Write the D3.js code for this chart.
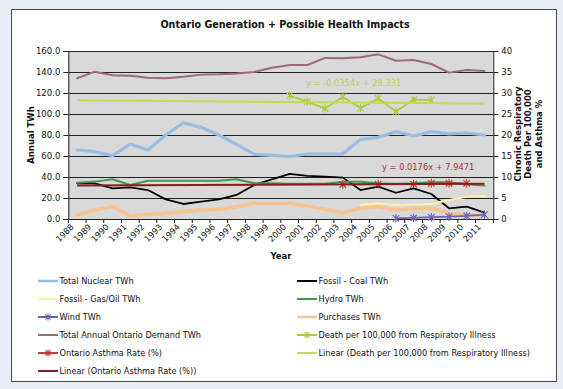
<!DOCTYPE html>
<html><head><meta charset="utf-8">
<script src="https://cdn.jsdelivr.net/npm/d3@7/dist/d3.min.js"></script>
<style>
html,body{margin:0;padding:0;background:#e9eef8;}
svg{display:block;font-family:"DejaVu Sans",Verdana,sans-serif;}
</style></head>
<body>
<svg id="c" width="563" height="389"></svg>
<script>
const years = ["1988","1989","1990","1991","1992","1993","1994","1995","1996","1997","1998","1999","2000","2001","2002","2003","2004","2005","2006","2007","2008","2009","2010","2011"];
const nuclear  = [65.7,64.1,60.3,71.4,65.7,80,91.7,87.3,80,71.1,61.6,60.6,59.5,61.9,61.9,61.9,75.9,77.8,83.2,79,83.2,81,81.9,80];
const coal     = [34,34,29.2,30.2,27.6,18.7,14.3,16.5,18.7,22.9,32.4,37.8,42.9,41,40.3,39.4,27.6,30.8,25,29.2,23.8,10.2,11.7,6];
const gasOil   = [null,null,null,null,null,null,null,null,null,null,null,null,null,null,null,null,13.3,15,13.3,13.8,14.3,18,21.2,22];
const hydro    = [34.6,35.6,37.8,32.4,36.5,36.5,36.5,36.5,36.5,37.8,34,34,33.5,33.5,33.5,35.5,35.5,34,33.5,34,35,35,33,32];
const wind     = [null,null,null,null,null,null,null,null,null,null,null,null,null,null,null,null,null,null,0.6,1,1.7,2.3,2.9,4.2];
const purchases= [3.8,8.6,11.7,2.9,4.4,5.4,7,8.6,9.2,11.7,15,15,15,12.4,9.2,6,10.2,11.7,8.6,10.2,10.2,5.4,3.8,2.9];
const demand   = [134,140.3,137,136.5,134.6,134,135.5,137.5,137.8,138.5,140,144,146.7,146.7,153.4,153,154,156.8,150.7,151.4,147.6,139.4,141.9,141];
const death    = [null,null,null,null,null,null,null,null,null,null,null,null,29.4,27.9,26.3,29.1,26.4,28.7,25.6,28.4,28.3,null,null,null];
const asthma   = [null,null,null,null,null,null,null,null,null,null,null,null,null,null,null,8.2,null,8.3,null,8.3,8.5,8.5,8.5,null];
const deathTrendEnds  = [28.30,27.48];   // 1988, 2011
const asthmaTrendEnds = [7.96,8.37];     // 1988, 2011
const leftTicks  = [0,20,40,60,80,100,120,140,160];
const rightTicks = [0,5,10,15,20,25,30,35,40];
const deathEq  = "y = -0.0354x + 28.331";
const asthmaEq = "y = 0.0176x + 7.9471";

const svg = d3.select("#c");
svg.append("rect").attr("x",11.5).attr("y",9.5).attr("width",545).attr("height",372)
  .attr("fill","#fff").attr("stroke","#4a4a4a").attr("stroke-width",1);

const L=68.3, R=493.3, T=51, B=219;
const x = d3.scaleBand().domain(years).range([L,R]).padding(0);
const cx = d => x(d)+x.bandwidth()/2;
const yL = d3.scaleLinear().domain([0,160]).range([B,T]);
const yR = d3.scaleLinear().domain([0,40]).range([B,T]);

svg.append("rect").attr("x",L).attr("y",T).attr("width",R-L).attr("height",B-T).attr("fill","#d9d9d9");
svg.append("g").selectAll("line").data(leftTicks).join("line")
  .attr("x1",L).attr("x2",R).attr("y1",d=>Math.round(yL(d))+0.5).attr("y2",d=>Math.round(yL(d))+0.5)
  .attr("stroke","#222").attr("stroke-width",1);

const fmt = d3.format(".1f");
const gl = svg.append("g").attr("transform",`translate(${L},0)`)
  .call(d3.axisLeft(yL).tickValues(leftTicks).tickFormat(fmt).tickSize(5).tickPadding(3));
const gr = svg.append("g").attr("transform",`translate(${R},0)`)
  .call(d3.axisRight(yR).tickValues(rightTicks).tickSize(5).tickPadding(3));
const gb = svg.append("g").attr("transform",`translate(0,${B})`)
  .call(d3.axisBottom(x).tickSize(0).tickPadding(0));
[gl,gr,gb].forEach(g=>{
  g.select(".domain").attr("stroke","#222");
  g.selectAll(".tick line").attr("stroke","#222");
  g.selectAll("text").attr("fill","#111").style("font-size","8.5px").style("font-family","DejaVu Sans, sans-serif");
});
gb.selectAll(".tick text").attr("text-anchor","end").attr("dy",0).attr("y",0)
  .attr("transform","translate(-3,8.5) rotate(-45)").style("font-size","8.3px");
svg.append("g").selectAll("line").data(years.concat(["end"])).join("line")
  .attr("x1",d=>d==="end"?R:x(d)).attr("x2",d=>d==="end"?R:x(d))
  .attr("y1",B).attr("y2",B+4).attr("stroke","#222");

const clip = svg.append("g");
function drawLine(vals, scale, color, w){
  const ln = d3.line().defined(d=>d.v!=null).x(d=>cx(d.k)).y(d=>scale(d.v));
  const data = years.map((k,i)=>({k,v:vals[i]}));
  clip.append("path").datum(data).attr("d",ln).attr("fill","none").attr("stroke",color)
    .attr("stroke-width",w).attr("stroke-linejoin","round").attr("stroke-linecap","round");
}
function drawConnected(vals, scale, color, w){
  const data = years.map((k,i)=>({k,v:vals[i]})).filter(d=>d.v!=null);
  const ln = d3.line().x(d=>cx(d.k)).y(d=>scale(d.v));
  clip.append("path").datum(data).attr("d",ln).attr("fill","none").attr("stroke",color)
    .attr("stroke-width",w).attr("stroke-linejoin","round");
}
function star(g, px, py, color, s){
  const p = `M${px-s},${py-s}L${px+s},${py+s}M${px-s},${py+s}L${px+s},${py-s}M${px},${py-s-1}L${px},${py+s+1}`;
  g.append("path").attr("d",p).attr("stroke",color).attr("stroke-width",1.1).attr("fill","none");
}
function drawMarkers(vals, scale, color){
  years.forEach((k,i)=>{ if(vals[i]!=null) star(clip,cx(k),scale(vals[i]),color,3.2); });
}
function drawTrend(ends, color){
  clip.append("line").attr("x1",cx(years[0])).attr("x2",cx(years[years.length-1]))
    .attr("y1",yR(ends[0])).attr("y2",yR(ends[1])).attr("stroke",color).attr("stroke-width",2);
}

const C = {nuclear:"#98bde2",coal:"#000000",gas:"#fff1a6",hydro:"#3f9a4c",wind:"#6f62b3",
  purchases:"#f7c391",demand:"#9c6a72",death:"#a9cd3f",deathLin:"#c7d851",asthma:"#c23a2e",asthmaLin:"#8a1a1e"};

drawLine(nuclear,yL,C.nuclear,3.2);
drawLine(coal,yL,C.coal,1.8);
drawLine(hydro,yL,C.hydro,2);
drawLine(purchases,yL,C.purchases,3.6);
drawLine(gasOil,yL,C.gas,2);
drawLine(wind,yL,C.wind,1.8);
drawMarkers(wind,yL,C.wind);
drawLine(demand,yL,C.demand,2);
drawLine(death,yR,C.death,1.8);
drawMarkers(death,yR,C.death);
drawTrend(deathTrendEnds,C.deathLin);
drawConnected(asthma,yR,C.asthma,1.6);
drawMarkers(asthma,yR,C.asthma);
drawTrend(asthmaTrendEnds,C.asthmaLin);

svg.append("text").attr("x",306).attr("y",86).text(deathEq).attr("fill","#bccf5a").style("font-size","8.3px");
svg.append("text").attr("x",382).attr("y",170).text(asthmaEq).attr("fill","#a8313c").style("font-size","8.3px");

svg.append("text").attr("x",285).attr("y",28).attr("text-anchor","middle").attr("font-weight","bold")
  .style("font-size","9.6px").attr("fill","#111").text("Ontario Generation + Possible Health Impacts");
svg.append("text").attr("transform","translate(34,135) rotate(-90)").attr("text-anchor","middle")
  .attr("font-weight","bold").style("font-size","8.5px").attr("fill","#111").text("Annual TWh");
["Chronic Respiratory","Death Per 100,000","and Asthma %"].forEach((t,i)=>{
  svg.append("text").attr("transform",`translate(${521+i*10.3},134) rotate(-90)`).attr("text-anchor","middle")
    .attr("font-weight","bold").style("font-size","8.5px").attr("fill","#111").text(t);
});
svg.append("text").attr("x",281).attr("y",259).attr("text-anchor","middle").attr("font-weight","bold")
  .style("font-size","8.5px").attr("fill","#111").text("Year");

const legendItems = [
  {t:"Total Nuclear TWh",c:C.nuclear,w:2.5},
  {t:"Fossil - Coal TWh",c:C.coal,w:2},
  {t:"Fossil - Gas/Oil TWh",c:C.gas,w:2},
  {t:"Hydro TWh",c:C.hydro,w:2},
  {t:"Wind TWh",c:C.wind,w:2,m:true},
  {t:"Purchases TWh",c:C.purchases,w:2.5},
  {t:"Total Annual Ontario Demand TWh",c:C.demand,w:2},
  {t:"Death per 100,000 from Respiratory Illness",c:C.death,w:2,m:true},
  {t:"Ontario Asthma Rate (%)",c:C.asthma,w:2,m:true},
  {t:"Linear (Death per 100,000 from Respiratory Illness)",c:C.deathLin,w:2},
  {t:"Linear (Ontario Asthma Rate (%))",c:C.asthmaLin,w:2}
];
const rowsY=[281,299,317,335,353,371];
const lg = svg.append("g");
legendItems.forEach((d,i)=>{
  const col=i%2,row=Math.floor(i/2);
  const x0 = col===0?38:297, y0=rowsY[row];
  lg.append("line").attr("x1",x0).attr("x2",x0+20).attr("y1",y0).attr("y2",y0).attr("stroke",d.c).attr("stroke-width",d.w);
  if(d.m) star(lg,x0+10,y0,d.c,2.6);
  lg.append("text").attr("x",x0+21.5).attr("y",y0+2.9).text(d.t).style("font-size","8.2px").attr("fill","#111");
});
</script>
</body></html>
